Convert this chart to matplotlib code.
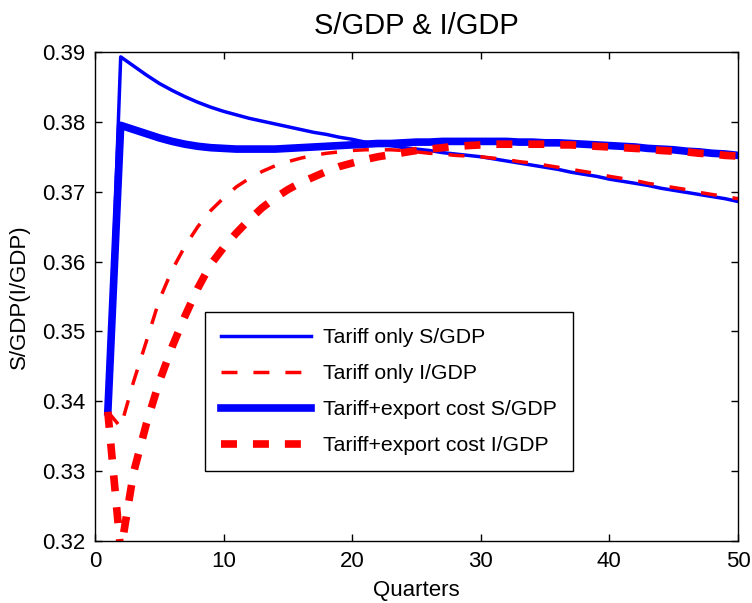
#!/bin/env python
import matplotlib as mpl
import matplotlib.pyplot as plt

mpl.use("agg", force=True)

quarters = list(range(1, 51))

tariff_s = [0.3385, 0.3893, 0.3880, 0.3867, 0.3855, 0.3845, 0.3836, 0.3828, 0.3821, 0.3815,
            0.3810, 0.3805, 0.3801, 0.3797, 0.3793, 0.3789, 0.3785, 0.3782, 0.3778, 0.3775,
            0.3771, 0.3768, 0.3766, 0.3763, 0.3761, 0.3759, 0.3756, 0.3754, 0.3752, 0.3750,
            0.3747, 0.3744, 0.3741, 0.3738, 0.3735, 0.3732, 0.3728, 0.3725, 0.3722, 0.3718,
            0.3715, 0.3712, 0.3709, 0.3705, 0.3702, 0.3699, 0.3696, 0.3693, 0.3690, 0.3686]

tariff_i = [0.3385, 0.3363, 0.3428, 0.3486, 0.3545, 0.3588, 0.3622, 0.3650, 0.3673, 0.3691,
            0.3707, 0.3719, 0.3729, 0.3737, 0.3743, 0.3748, 0.3752, 0.3755, 0.3757, 0.3759,
            0.3760, 0.3760, 0.3760, 0.3759, 0.3757, 0.3755, 0.3754, 0.3752, 0.3751, 0.3750,
            0.3748, 0.3746, 0.3743, 0.3741, 0.3738, 0.3735, 0.3732, 0.3729, 0.3726, 0.3722,
            0.3719, 0.3716, 0.3712, 0.3709, 0.3706, 0.3703, 0.3699, 0.3696, 0.3693, 0.3690]

export_s = [0.3385, 0.3795, 0.3789, 0.3783, 0.3777, 0.3772, 0.3768, 0.3765, 0.3763, 0.3762,
            0.3761, 0.3761, 0.3761, 0.3761, 0.3762, 0.3763, 0.3764, 0.3765, 0.3766, 0.3767,
            0.3768, 0.3769, 0.3769, 0.3770, 0.3771, 0.3771, 0.3772, 0.3772, 0.3772, 0.3772,
            0.3772, 0.3772, 0.3771, 0.3771, 0.3770, 0.3770, 0.3769, 0.3768, 0.3767, 0.3766,
            0.3765, 0.3764, 0.3762, 0.3761, 0.3760, 0.3758, 0.3757, 0.3755, 0.3754, 0.3752]

export_i = [0.3385, 0.3185, 0.3298, 0.3368, 0.3428, 0.3478, 0.3522, 0.3562, 0.3596, 0.3620,
            0.3641, 0.3660, 0.3677, 0.3691, 0.3703, 0.3713, 0.3721, 0.3729, 0.3736, 0.3741,
            0.3746, 0.3750, 0.3753, 0.3756, 0.3759, 0.3761, 0.3763, 0.3765, 0.3766, 0.3767,
            0.3768, 0.3768, 0.3768, 0.3768, 0.3768, 0.3767, 0.3767, 0.3766, 0.3765, 0.3764,
            0.3763, 0.3762, 0.3761, 0.3759, 0.3758, 0.3757, 0.3755, 0.3754, 0.3752, 0.3751]

labels = ['Tariff only S/GDP', 'Tariff only I/GDP',
          'Tariff+export cost S/GDP', 'Tariff+export cost I/GDP']

xticks = [0, 10, 20, 30, 40, 50]
yticks = [0.32, 0.33, 0.34, 0.35, 0.36, 0.37, 0.38, 0.39]

plt.rcParams['font.family'] = ['Liberation Sans', 'DejaVu Sans']
plt.rcParams['lines.scale_dashes'] = False

fig = plt.figure(figsize=(7.52, 6.03), dpi=100)
ax = fig.add_axes([0.1263, 0.1028, 0.855, 0.811])

dash = (0, (11.5, 11.5))
ax.plot(quarters, tariff_s, color='#0000ff', lw=2.5, label=labels[0])
ax.plot(quarters, tariff_i, color='#ff0000', lw=2.5, ls=dash, label=labels[1])
ax.plot(quarters, export_s, color='#0000ff', lw=5.5, label=labels[2])
ax.plot(quarters, export_i, color='#ff0000', lw=5.5, ls=dash, label=labels[3])

ax.set_xlim(0, 50)
ax.set_ylim(0.32, 0.39)
ax.set_xticks(xticks)
ax.set_yticks(yticks)
ax.set_yticklabels(['%.2f' % v for v in yticks])
ax.tick_params(direction='in', top=True, right=True, length=5, width=1,
               labelsize=16, pad=7)
for sp in ax.spines.values():
    sp.set_linewidth(1.0)

ax.set_title('S/GDP & I/GDP', fontsize=21, pad=13)
ax.set_xlabel('Quarters', fontsize=16, labelpad=6)
ax.set_ylabel('S/GDP(I/GDP)', fontsize=16, labelpad=9)

leg = ax.legend(loc='upper left', bbox_to_anchor=(0.171, 0.468),
                borderaxespad=0, fontsize=15.3, handlelength=4.24,
                handletextpad=0.56, labelspacing=0.80, borderpad=0.75,
                fancybox=False, framealpha=1, edgecolor='black')
leg.get_frame().set_linewidth(1.0)

fig.savefig('out.png', dpi=100)
plt.close()
